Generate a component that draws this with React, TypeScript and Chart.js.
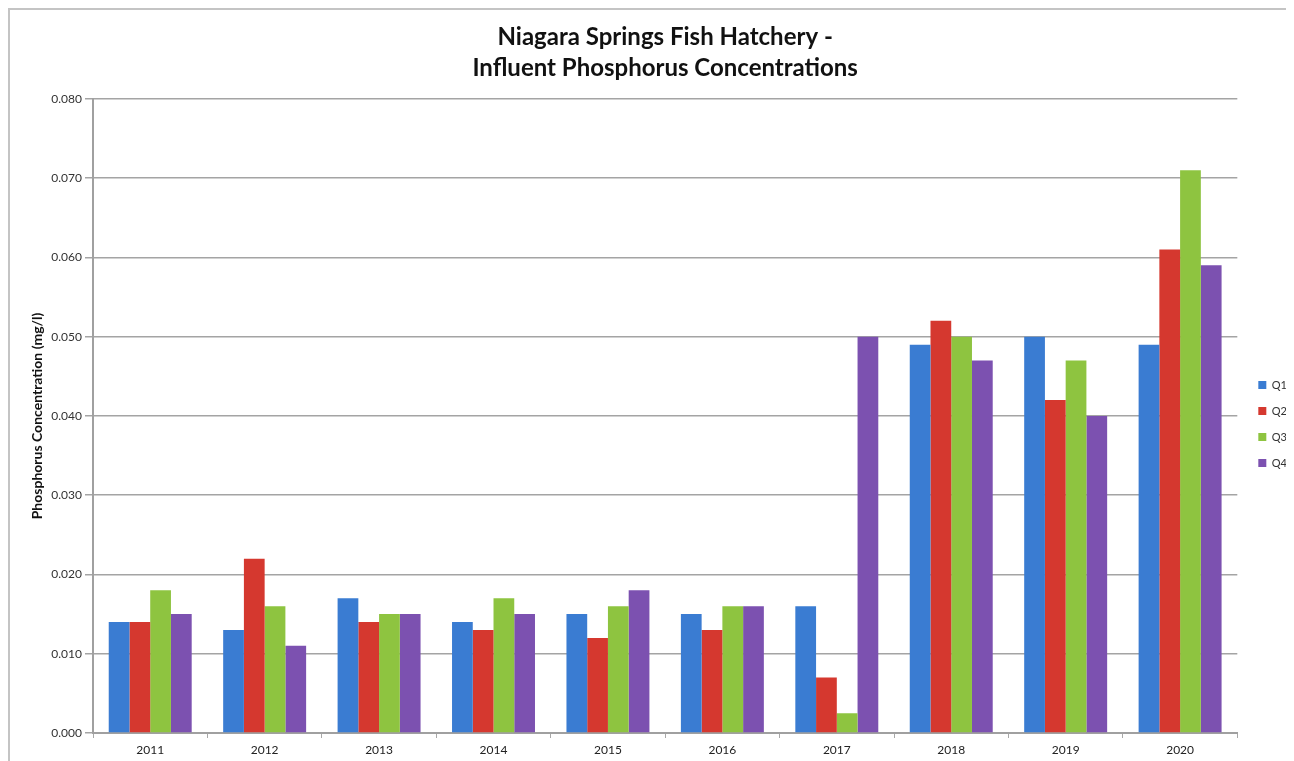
import React, { useEffect, useRef } from "react";
import { Chart, registerables } from "chart.js";

Chart.register(...registerables);

const years = ["2011", "2012", "2013", "2014", "2015", "2016", "2017", "2018", "2019", "2020"];
const q1 = [0.014, 0.013, 0.017, 0.014, 0.015, 0.015, 0.016, 0.049, 0.05, 0.049];
const q2 = [0.014, 0.022, 0.014, 0.013, 0.012, 0.013, 0.007, 0.052, 0.042, 0.061];
const q3 = [0.018, 0.016, 0.015, 0.017, 0.016, 0.016, 0.0025, 0.05, 0.047, 0.071];
const q4 = [0.015, 0.011, 0.015, 0.015, 0.018, 0.016, 0.05, 0.047, 0.04, 0.059];
const seriesNames = ["Q1", "Q2", "Q3", "Q4"];
const seriesColors = ["#3a7cd2", "#d5382f", "#8ec440", "#7c51b0"];
const titleLines = ["Niagara Springs Fish Hatchery -", "Influent Phosphorus Concentrations"];
const yTitle = "Phosphorus Concentration (mg/l)";

const FONT = "Lato, 'Open Sans', sans-serif";

// Nudges the legend block into place beside the plot area.
const legendOffset = {
  id: "legendOffset",
  afterLayout(chart: any) {
    const lg = chart.legend;
    if (!lg) return;
    const dx = 6;
    const dy = 34;
    lg.left += dx;
    lg.right += dx;
    lg.top += dy;
    lg.bottom += dy;
  },
};

export default function App() {
  const canvasRef = useRef<HTMLCanvasElement | null>(null);

  useEffect(() => {
    document.documentElement.style.overflow = "hidden";
    const canvas = canvasRef.current;
    if (!canvas) return;
    const values = [q1, q2, q3, q4];
    const chart = new Chart(canvas, {
      type: "bar",
      data: {
        labels: years,
        datasets: seriesNames.map((name, i) => ({
          label: name,
          data: values[i],
          backgroundColor: seriesColors[i],
          borderWidth: 0,
          barPercentage: 1,
          categoryPercentage: 0.725,
        })),
      },
      plugins: [legendOffset],
      options: {
        responsive: false,
        animation: false,
        layout: { padding: { left: 10, right: 9, top: 0, bottom: 0 } },
        plugins: {
          tooltip: { enabled: false },
          title: {
            display: true,
            text: titleLines,
            fullSize: false,
            color: "#111",
            font: { family: FONT, size: 24, weight: "bold", lineHeight: 1.29 },
            padding: { top: 12, bottom: 15 },
          },
          legend: {
            position: "right",
            labels: {
              boxWidth: 8,
              boxHeight: 8,
              padding: 15,
              color: "#333",
              font: { family: FONT, size: 11 },
            },
          },
        },
        scales: {
          x: {
            grid: {
              display: true,
              drawOnChartArea: false,
              drawTicks: true,
              tickLength: 5,
              color: "#a8a8a8",
            },
            border: { display: true, color: "#a0a0a0", width: 2 },
            ticks: { color: "#222", padding: 5, font: { family: FONT, size: 12 } },
            afterFit: (scale: any) => {
              scale.height = 37;
            },
          },
          y: {
            min: 0,
            max: 0.08,
            ticks: {
              stepSize: 0.01,
              color: "#333",
              padding: 3,
              font: { family: FONT, size: 12 },
              callback: (v: any) => Number(v).toFixed(3),
            },
            grid: { color: "#a4a4a4", lineWidth: 1.5, tickLength: 8 },
            border: { display: true, color: "#a0a0a0", width: 2 },
            title: {
              display: true,
              text: yTitle,
              color: "#111",
              padding: { top: 9, bottom: 0 },
              font: { family: FONT, size: 14, weight: "bold" },
            },
            afterFit: (scale: any) => {
              scale.width = 73;
            },
          },
        },
      },
    });
    return () => chart.destroy();
  }, []);

  return (
    <div
      style={{
        width: 1300,
        height: 780,
        borderTop: "2px solid #c4c4c4",
        borderLeft: "2px solid #c4c4c4",
        background: "#fff",
      }}
    >
      <canvas ref={canvasRef} width={1290} height={760} style={{ display: "block" }} />
    </div>
  );
}
